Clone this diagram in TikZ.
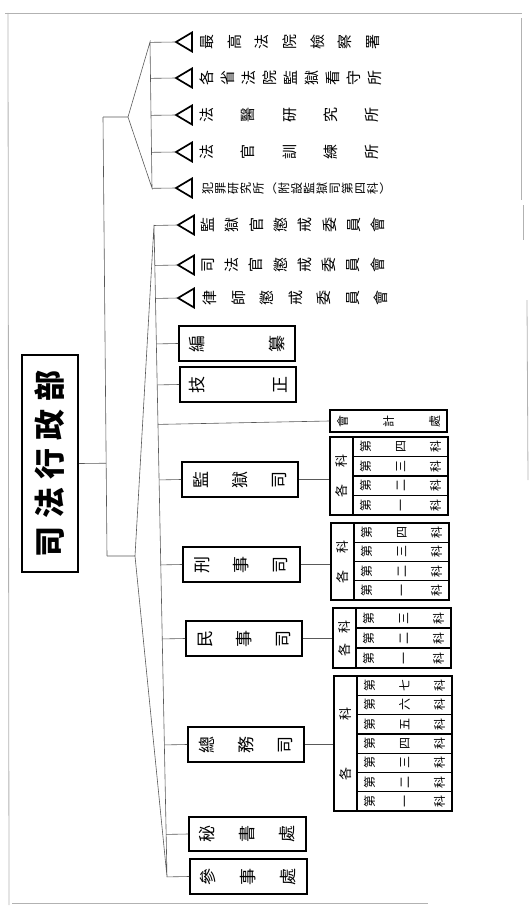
\documentclass[tikz,border=0pt]{standalone}
\usepackage{fontspec}
\newfontfamily\cjk{Noto Sans CJK TC}
\usetikzlibrary{calc}
\begin{document}
\begin{tikzpicture}[x=1pt,y=-1pt,
  conn/.style={draw=black!65, line width=0.6pt},
  framel/.style={draw=black!30, line width=0.8pt},
  bx/.style 2 args={draw, line width=1.8pt, rotate=90, inner sep=0pt, align=center, minimum width=#2, minimum height=#1},
  rowbox/.style={line width=1.3pt},
  txt/.style={rotate=90, inner sep=0pt, align=center},
  pf/.style 2 args={font=\cjk\fontsize{#1}{#2}\selectfont},
  tri/.style={draw, line width=1.7pt, line join=miter}]
\useasboundingbox (0,0) rectangle (532,907);
% page frame
\draw[framel] (5,13) -- (522,13);
\draw[framel] (8,13) -- (9,905);
\draw[framel] (12,903) -- (428,903);
\draw[framel] (521,18) -- (521,200);
\draw[framel] (523,205) -- (523,240);
\draw[framel] (527,300) -- (528,480);
% title
\node[bx={56}{217}, line width=2.4pt, pf={31}{31}] (title) at (50,463.5) {\bfseries 司\kern8pt 法\kern8pt 行\kern8pt 政\kern8pt 部};
% trunk and braces
\coordinate (k1) at (103,117);
\coordinate (k2) at (107,556);
\coordinate (j1) at (128,117);
\coordinate (j2) at (135,556);
\coordinate (s1t) at (150,42);
\coordinate (s1b) at (152,188);
\coordinate (s2t) at (154,225);
\coordinate (s2b) at (167,877);
\draw[conn] (k1) -- (k2);
\draw[conn] (title.south) -- ($(k1)!(title.south)!(k2)$);
\draw[conn] (k1) -- (j1) -- (s1t) -- (s1b) -- (j1);
\draw[conn] (k2) -- (j2) -- (s2t) -- (s2b) -- (j2);
% triangles
\foreach \n/\y in {1/42,2/78,3/115,4/152,5/188}{
  \coordinate (p\n) at (176,\y);
  \draw[tri] (p\n) -- ++(16,-9.5) -- ++(0,19) -- cycle;
  \draw[conn] ($(s1t)!(p\n)!(s1b)$) -- (p\n);
}
\foreach \n/\y in {6/225,7/265,8/298}{
  \coordinate (p\n) at (178,\y);
  \draw[tri] (p\n) -- ++(16,-9.5) -- ++(0,19) -- cycle;
  \draw[conn] ($(s2t)!(p\n)!(s2b)$) -- (p\n);
}
% triangle texts
\node[txt, pf={15}{27.7}] (t1) at (290,42) {最\\高\\法\\院\\檢\\察\\署};
\node[txt, pf={15}{21}] (t2) at (291,78) {各\\省\\法\\院\\監\\獄\\看\\守\\所};
\node[txt, pf={15}{41.25}] (t3) at (289.5,115) {法\\醫\\研\\究\\所};
\node[txt, pf={15}{41.25}] (t4) at (289.5,152) {法\\官\\訓\\練\\所};
\node[txt, pf={12}{12.7}] (t5) at (296,188) {犯\\罪\\研\\究\\所\\︵\\附\\設\\監\\獄\\司\\第\\四\\科\\︶};
\node[txt, pf={15}{24.3}] (t6) at (293,225) {監\\獄\\官\\懲\\戒\\委\\員\\會};
\node[txt, pf={15}{24.3}] (t7) at (293,265) {司\\法\\官\\懲\\戒\\委\\員\\會};
\node[txt, pf={15}{28.5}] (t8) at (295.5,298) {律\\師\\懲\\戒\\委\\員\\會};
% boxes on lower brace
\node[bx={116}{35}, pf={17}{80}] (bz) at (237,343.5) {編\\纂};
\node[bx={116}{35}, pf={17}{83}] (jz) at (238,384.5) {技\\正};
\node[bx={117}{22}, line width=1.5pt, pf={12}{46}] (kj) at (388.5,421) {會\\計\\處};
\node[bx={116}{35}, pf={17}{39}] (jys) at (240,479.5) {監\\獄\\司};
\node[bx={117}{35}, pf={17}{39}] (xss) at (241.5,564.5) {刑\\事\\司};
\node[bx={116}{35}, pf={17}{39}] (mss) at (244,638.5) {民\\事\\司};
\node[bx={116}{35}, pf={17}{39}] (zws) at (246,744.5) {總\\務\\司};
\node[bx={117}{34}, pf={17}{40}] (msc) at (247.5,834) {秘\\書\\處};
\node[bx={117}{35}, pf={17}{40}] (csc) at (248.5,876.5) {參\\事\\處};
\foreach \b in {bz,jz,kj,jys,xss,mss,zws,msc,csc}
  \draw[conn] (\b.north) -- ($(s2t)!(\b.north)!(s2b)$);
% sections groups
\node[bx={23}{78}, pf={13}{13}] (jyk) at (341.5,476) {各\kern17pt 科};
\foreach \n/\m in {1/一,2/二,3/三,4/四}{
  \pgfmathsetmacro\yy{515-(\n-0.5)*19.5}
  \node[bx={95}{19.5}, rowbox, pf={12}{35}] (jy\n) at (400.5,\yy) {第\\\m\\科};
}
\node[bx={23}{77}, pf={13}{13}] (xsk) at (342.5,561.5) {各\kern17pt 科};
\foreach \n/\m in {1/一,2/二,3/三,4/四}{
  \pgfmathsetmacro\yy{600-(\n-0.5)*19.25}
  \node[bx={95}{19.25}, rowbox, pf={12}{35}] (xs\n) at (401.5,\yy) {第\\\m\\科};
}
\node[bx={23}{60}, pf={13}{13}] (msk) at (344.5,638) {各\kern10pt 科};
\foreach \n/\m in {1/一,2/二,3/三}{
  \pgfmathsetmacro\yy{668-(\n-0.5)*20}
  \node[bx={95}{20}, rowbox, pf={12}{35}] (ms\n) at (403.5,\yy) {第\\\m\\科};
}
\node[bx={23}{135}, pf={13}{13}] (zwk) at (345.5,743.5) {各\kern47pt 科};
\foreach \n/\m in {1/一,2/二,3/三,4/四,5/五,6/六,7/七}{
  \pgfmathsetmacro\yy{811-(\n-0.5)*19.2857}
  \node[bx={95}{19.2857}, rowbox, pf={12}{35}] (zw\n) at (404.5,\yy) {第\\\m\\科};
}
\draw[conn] (jys.south) -- (jys.south -| jyk.north);
\draw[conn] (xss.south) -- (xss.south -| xsk.north);
\draw[conn] (mss.south) -- (mss.south -| msk.north);
\draw[conn] (zws.south) -- (zws.south -| zwk.north);
\end{tikzpicture}
\end{document}
